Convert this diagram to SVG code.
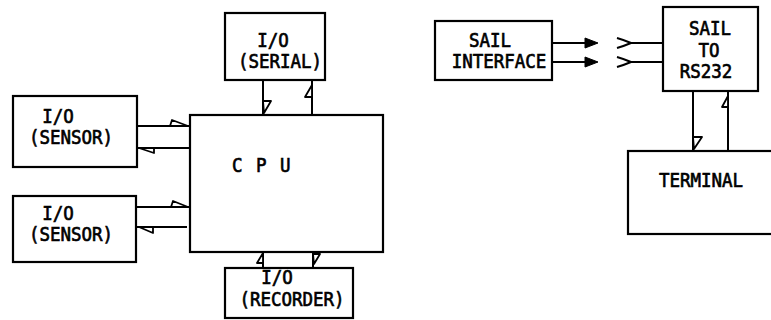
<svg xmlns="http://www.w3.org/2000/svg" width="771" height="320" viewBox="0 0 771 320">
<style>
.box{fill:#fff;stroke:#000;stroke-width:2.2}
.t{font-family:"DejaVu Sans Mono","Liberation Mono",monospace;font-size:17.5px;fill:#000;stroke:#000;stroke-width:0.6;text-anchor:middle}
.ln{stroke:#000;stroke-width:2;fill:none}
.hh{stroke:#000;stroke-width:1.8;fill:#fff;stroke-linejoin:round}
.fh{fill:#000;stroke:#000;stroke-width:1}
</style>
<rect width="771" height="320" fill="#fff"/>
<g id="connectors">
  <line class="ln" x1="263" y1="80" x2="263" y2="115"/>
  <path class="hh" d="M263,101 L271,101 L264,113 Z"/>
  <line class="ln" x1="312" y1="80" x2="312" y2="115"/>
  <path class="hh" d="M312,85 L305,97 L312,97 Z"/>
  <line class="ln" x1="137" y1="126" x2="190" y2="126"/>
  <path class="hh" d="M170,126 L172,120 L188,126 Z"/>
  <line class="ln" x1="137" y1="148" x2="190" y2="148"/>
  <path class="hh" d="M139,148 L154,153 L154,148 Z"/>
  <line class="ln" x1="136" y1="207" x2="190" y2="207"/>
  <path class="hh" d="M171,207 L173,201 L188,207 Z"/>
  <line class="ln" x1="136" y1="227" x2="187" y2="227"/>
  <path class="hh" d="M139,227 L153,233 L153,227 Z"/>
  <line class="ln" x1="263" y1="252" x2="263" y2="268"/>
  <path class="hh" d="M263,253 L257,263 L263,263 Z"/>
  <line class="ln" x1="313" y1="252" x2="313" y2="268"/>
  <path class="hh" d="M313,254 L320,254 L314,264 Z"/>
  <line class="ln" x1="552" y1="43" x2="588" y2="43"/>
  <path class="fh" d="M585,38 L598,43 L585,48 Z"/>
  <line class="ln" x1="552" y1="62" x2="588" y2="62"/>
  <path class="fh" d="M585,57 L598,62 L585,67 Z"/>
  <path class="ln" d="M617,38 Q624,40 631,43 Q624,46 617,48"/>
  <line class="ln" x1="631" y1="43" x2="663" y2="43"/>
  <path class="ln" d="M617,57 Q624,59 631,62 Q624,65 617,67"/>
  <line class="ln" x1="631" y1="62" x2="663" y2="62"/>
  <line class="ln" x1="693" y1="91" x2="693" y2="151"/>
  <path class="hh" d="M693,137 L702,137 L694,149 Z"/>
  <line class="ln" x1="728" y1="91" x2="728" y2="151"/>
  <path class="hh" d="M728,96 L722,107 L728,107 Z"/>
</g>
<g id="serial">
  <rect class="box" x="225" y="13" width="100" height="67"/>
  <text class="t" transform="translate(273,47) scale(1,1.15)">I/O</text>
  <text class="t" transform="translate(280,68) scale(1,1.15)">(SERIAL)</text>
</g>
<g id="sensor1">
  <rect class="box" x="13" y="96" width="124" height="71"/>
  <text class="t" transform="translate(58,123) scale(1,1.15)">I/O</text>
  <text class="t" transform="translate(71,144) scale(1,1.15)">(SENSOR)</text>
</g>
<g id="sensor2">
  <rect class="box" x="13" y="196" width="123" height="66"/>
  <text class="t" transform="translate(58,220) scale(1,1.15)">I/O</text>
  <text class="t" transform="translate(71,241) scale(1,1.15)">(SENSOR)</text>
</g>
<g id="cpu">
  <rect class="box" x="190" y="115" width="193" height="137"/>
  <text class="t" transform="translate(262,172) scale(1,1.15)" letter-spacing="1.5">C P U</text>
</g>
<g id="recorder">
  <rect class="box" x="225" y="268" width="128" height="50"/>
  <text class="t" transform="translate(277,284) scale(1,1.1)">I/O</text>
  <text class="t" transform="translate(292,306) scale(1,1.1)">(RECORDER)</text>
</g>
<g id="sail-interface">
  <rect class="box" x="435" y="21" width="117" height="59"/>
  <text class="t" transform="translate(490,47) scale(1,1.15)">SAIL</text>
  <text class="t" transform="translate(499,68) scale(1,1.15)">INTERFACE</text>
</g>
<g id="sail-rs232">
  <rect class="box" x="663" y="7" width="95" height="84"/>
  <text class="t" transform="translate(710,35) scale(1,1.15)">SAIL</text>
  <text class="t" transform="translate(709,57) scale(1,1.15)">TO</text>
  <text class="t" transform="translate(706,78) scale(1,1.15)">RS232</text>
</g>
<g id="terminal">
  <rect class="box" x="628" y="151" width="160" height="83"/>
  <text class="t" transform="translate(701,187) scale(1,1.15)">TERMINAL</text>
</g>
</svg>
